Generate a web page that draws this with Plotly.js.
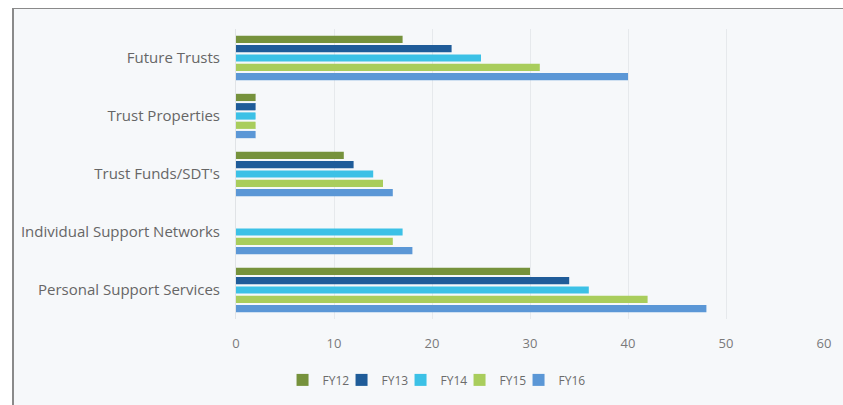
<!DOCTYPE html>
<html><head><meta charset="utf-8">
<script src="https://cdn.plot.ly/plotly-3.0.1.min.js"></script>
<style>
html,body{margin:0;padding:0;background:#fff;width:843px;height:405px;overflow:hidden}
#frame{position:absolute;left:12px;top:8px;width:831px;height:397px;border-left:2px solid #8a8a8a;border-top:1px solid #8a8a8a;background:#f6f8fa}
#chart{width:831px;height:397px}
#chart .legend .scrollbox{clip-path:none !important}
</style></head>
<body><div id="frame"><div id="chart"></div></div>
<script>
const categories = ["Future Trusts", "Trust Properties", "Trust Funds/SDT's", "Individual Support Networks", "Personal Support Services"];
const seriesNames = ["FY12", "FY13", "FY14", "FY15", "FY16"];
const fy12 = [17, 2, 11, null, 30];
const fy13 = [22, 2, 12, null, 34];
const fy14 = [25, 2, 14, 17, 36];
const fy15 = [31, 2, 15, 16, 42];
const fy16 = [40, 2, 16, 18, 48];
const xTicks = [0, 10, 20, 30, 40, 50, 60];
const colors = ["#76923c", "#1f5c99", "#3cc1e6", "#a9cd5c", "#5b97d6"];

const seriesValues = [fy12, fy13, fy14, fy15, fy16];
const traces = seriesValues.map((vals, i) => ({
  type: 'bar', orientation: 'h', name: seriesNames[i],
  x: vals, y: categories, marker: {color: colors[i]}
}));

const layout = {
  width: 831, height: 397,
  margin: {l: 222, r: 21, t: 20, b: 80},
  paper_bgcolor: '#f6f8fa', plot_bgcolor: '#f6f8fa',
  barmode: 'group', bargap: 0.2, bargroupgap: 0.22,
  font: {family: 'Open Sans, sans-serif', size: 15, color: '#6b6b6b'},
  xaxis: {range: [0, 60], tickvals: xTicks, showgrid: true, gridcolor: '#e6e9ec',
    zeroline: false, showline: false, ticks: 'outside', ticklen: 12, tickcolor: 'rgba(0,0,0,0)',
    tickfont: {size: 13, color: '#7a7a7a'}, fixedrange: true},
  yaxis: {autorange: 'reversed', showgrid: false, zeroline: false, showline: true, linecolor: '#e0e3e6',
    ticks: 'outside', ticklen: 12, tickcolor: 'rgba(0,0,0,0)', tickfont: {size: 15, color: '#666'}},
  legend: {orientation: 'h', x: 0.33, xanchor: 'center', y: -0.16, yanchor: 'top',
    font: {size: 12, color: '#6b6b6b'}, itemwidth: 30, entrywidth: 14, entrywidthmode: 'pixels',
    traceorder: 'normal', bgcolor: 'rgba(0,0,0,0)'},
  showlegend: true
};
Plotly.newPlot('chart', traces, layout, {displayModeBar: false, staticPlot: true});
</script></body></html>
